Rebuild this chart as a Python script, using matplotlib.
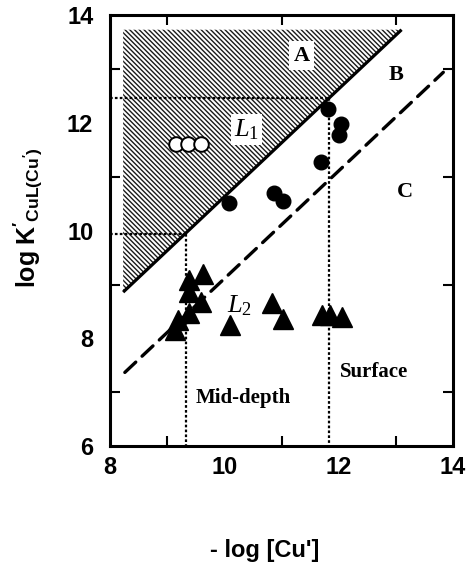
import matplotlib
matplotlib.use("Agg")
import matplotlib.pyplot as plt
import numpy as np

plt.rcParams["mathtext.fontset"] = "custom"
plt.rcParams["mathtext.it"] = "Liberation Serif:italic"
plt.rcParams["mathtext.rm"] = "Liberation Serif"
plt.rcParams["mathtext.bf"] = "Liberation Sans:bold"
plt.rcParams["hatch.linewidth"] = 1.0

# Ligand L1 (open circles)
l1_x = [9.15, 9.37, 9.59]
l1_y = [11.6, 11.6, 11.6]

# Filled circles
circ_x = [10.09, 10.87, 11.02, 11.69, 11.82, 12.04, 12.01]
circ_y = [10.51, 10.70, 10.55, 11.27, 12.26, 11.98, 11.77]

# Ligand L2 (triangles)
tri_x = [9.63, 9.39, 9.39, 9.60, 9.39, 9.19, 9.14, 10.10, 10.84, 11.02, 11.70, 11.85, 12.05]
tri_y = [9.19, 9.08, 8.87, 8.68, 8.47, 8.34, 8.16, 8.25, 8.65, 8.37, 8.43, 8.43, 8.40]

# Boundary lines (log K = -log[Cu'] + offset)
solid_x = [8.23, 13.1]
solid_off = 0.63
dash_x = [8.26, 13.83]
dash_off = -0.89
shade_top = 13.73

# Mid-depth and surface reference levels
mid_x, mid_y = 9.33, 9.93
surf_x, surf_y = 11.83, 12.47

fig = plt.figure(figsize=(4.68, 5.62), dpi=100)
ax = fig.add_axes([0.235, 0.206, 0.733, 0.767])

# hatched region A
sx = np.array(solid_x)
ax.fill([sx[0], sx[1], sx[0]], [shade_top, shade_top, sx[0] + solid_off],
        facecolor="white", edgecolor="#1a1a1a", hatch="\\\\\\\\\\\\\\", linewidth=0)
ax.plot(sx, sx + solid_off, color="black", lw=2.3, solid_capstyle="butt")

dx = np.array(dash_x)
ax.plot(dx, dx + dash_off, color="black", lw=2.4, dashes=(4.5, 2.6), dash_capstyle="round")

dot = dict(color="black", lw=1.6, linestyle=(0, (1.2, 1.0)))
ax.plot([8, mid_x], [mid_y, mid_y], **dot)
ax.plot([mid_x, mid_x], [mid_y, 6], **dot)
ax.plot([8, surf_x], [surf_y, surf_y], **dot)
ax.plot([surf_x, surf_x], [surf_y, 6], **dot)

ax.plot(l1_x, l1_y, "o", ms=10.5, mfc="white", mec="black", mew=1.4, ls="none", zorder=5)
ax.plot(circ_x, circ_y, "o", ms=10.5, color="black", ls="none", zorder=5)
ax.plot(tri_x, tri_y, "^", ms=15, color="black", ls="none", zorder=5)

serif_b = dict(family="Liberation Serif", fontweight="bold")
ax.text(11.35, 13.25, "A", fontsize=16, ha="center", va="center",
        bbox=dict(facecolor="white", edgecolor="none", pad=3), **serif_b)
ax.text(13.01, 12.89, "B", fontsize=16, ha="center", va="center", **serif_b)
ax.text(13.16, 10.72, "C", fontsize=16, ha="center", va="center", **serif_b)
ax.text(10.39, 11.88, r"$L_1$", fontsize=19, ha="center", va="center",
        bbox=dict(facecolor="white", edgecolor="none", pad=2))
ax.text(10.27, 8.62, r"$L_2$", fontsize=19, ha="center", va="center")
ax.text(10.33, 6.89, "Mid-depth", fontsize=15, ha="center", va="center", **serif_b)
ax.text(12.62, 7.38, "Surface", fontsize=15, ha="center", va="center", **serif_b)

ax.set_xlim(8, 14)
ax.set_ylim(6, 14)
ax.set_xticks([8, 10, 12, 14])
ax.set_yticks([6, 8, 10, 12, 14])
ax.set_xticks(np.arange(9, 14, 1), minor=True)
ax.set_yticks(np.arange(7, 14, 1), minor=True)
ax.tick_params(which="both", direction="in", top=True, right=True, width=1.5, length=7)
ax.tick_params(which="major", length=0)
ax.tick_params(axis="x", which="major", pad=7)
ax.tick_params(axis="y", which="major", pad=12)
for lab in ax.get_xticklabels() + ax.get_yticklabels():
    lab.set_fontfamily("Liberation Sans")
    lab.set_fontweight("bold")
    lab.set_fontsize(17)
for sp in ax.spines.values():
    sp.set_linewidth(2.2)

ax.set_xlabel("- log [Cu']", fontsize=17, fontweight="bold", family="Liberation Sans", labelpad=22)
ax.xaxis.set_label_coords(0.45, -0.215)
ax.set_ylabel(r"$\mathbf{log\ K'_{CuL(Cu')}}$", fontsize=18, labelpad=14)
ax.yaxis.set_label_coords(-0.19, 0.53)

fig.savefig("out.png", dpi=100)
